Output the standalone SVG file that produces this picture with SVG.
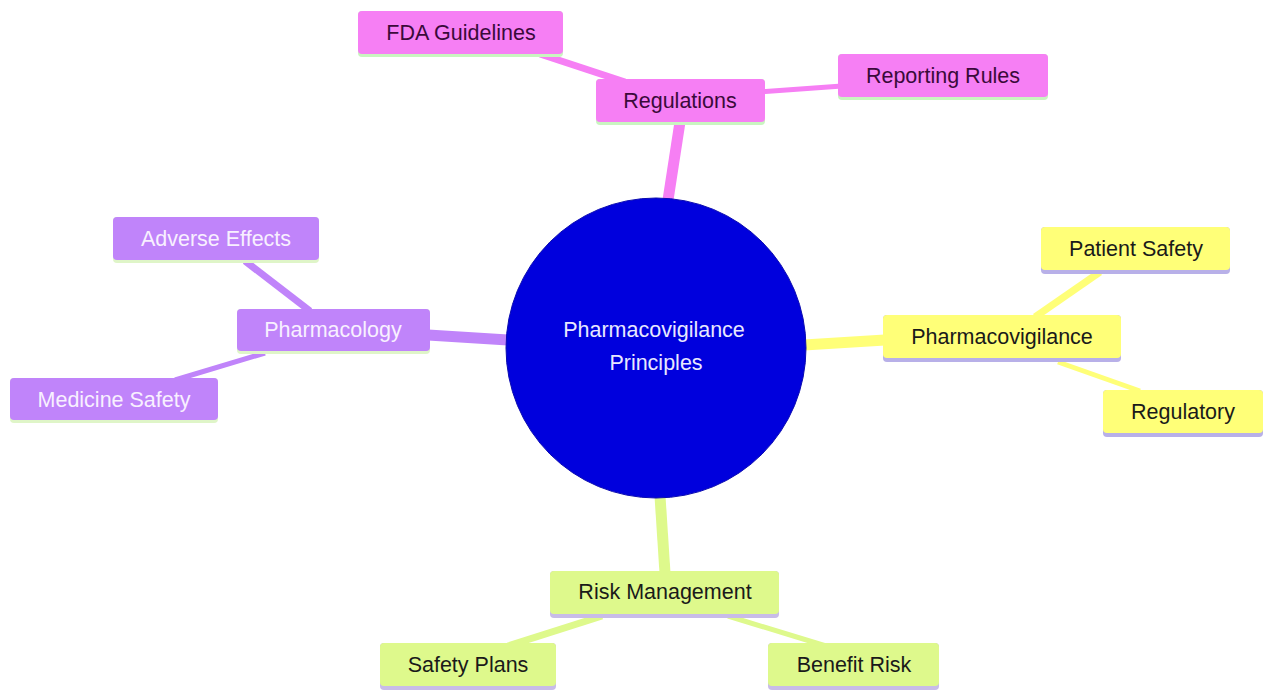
<svg xmlns="http://www.w3.org/2000/svg" width="1264" height="690" viewBox="0 0 1264 690">
<style>
text{font-family:"Liberation Sans",Arial,sans-serif;font-size:21.5px;text-anchor:middle;dominant-baseline:central}
.m rect.b{fill:#f67ff4}
.m rect.u{fill:#c9f5c0}
.m text{fill:#3a0a3a}
.p rect.b{fill:#c084fa}
.p rect.u{fill:#dff5c8}
.p text{fill:#f8f0ff}
.y rect.b{fill:#ffff78}
.y rect.u{fill:#b8b0e8}
.y text{fill:#1a1a1a}
.g rect.b{fill:#def98c}
.g rect.u{fill:#c8bce8}
.g text{fill:#1a1a1a}
.c line{stroke-linecap:butt}
</style>
<rect width="1264" height="690" fill="#ffffff"/>
<g id="connectors" class="c">
<line x1="680" y1="122" x2="668" y2="200" stroke="#f67ff4" stroke-width="11"/>
<line x1="540" y1="54" x2="625" y2="82" stroke="#f67ff4" stroke-width="7"/>
<line x1="760" y1="92" x2="842" y2="86" stroke="#f67ff4" stroke-width="5"/>
<line x1="428" y1="335" x2="508" y2="340" stroke="#c084fa" stroke-width="11"/>
<line x1="245" y1="261" x2="310" y2="311" stroke="#c084fa" stroke-width="7"/>
<line x1="175" y1="380" x2="265" y2="353" stroke="#c084fa" stroke-width="5"/>
<line x1="804" y1="345" x2="885" y2="340" stroke="#ffff78" stroke-width="11"/>
<line x1="1100" y1="272" x2="1035" y2="317" stroke="#ffff78" stroke-width="7"/>
<line x1="1058" y1="362" x2="1140" y2="391" stroke="#ffff78" stroke-width="5"/>
<line x1="660" y1="496" x2="665" y2="573" stroke="#def98c" stroke-width="11"/>
<line x1="602" y1="616" x2="508" y2="646" stroke="#def98c" stroke-width="7"/>
<line x1="728" y1="616" x2="826" y2="646" stroke="#def98c" stroke-width="5"/>
</g>
<g id="root">
<circle cx="656" cy="348" r="150" fill="#0000dd" stroke="#0a0ab0" stroke-width="1"/>
<text x="654" y="330" fill="#e8e8ff">Pharmacovigilance</text>
<text x="656" y="363" fill="#e8e8ff">Principles</text>
</g>
<g id="regulations" class="m"><rect class="u" x="596" y="79" width="169" height="46" rx="4"/><rect class="b" x="596" y="79" width="169" height="43" rx="4"/><text x="680" y="101">Regulations</text></g>
<g id="fda" class="m"><rect class="u" x="358" y="11" width="205" height="46" rx="4"/><rect class="b" x="358" y="11" width="205" height="43" rx="4"/><text x="461" y="33">FDA Guidelines</text></g>
<g id="reporting" class="m"><rect class="u" x="838" y="54" width="210" height="46" rx="4"/><rect class="b" x="838" y="54" width="210" height="43" rx="4"/><text x="943" y="76">Reporting Rules</text></g>
<g id="pharmacology" class="p"><rect class="u" x="237" y="309" width="193" height="45" rx="4"/><rect class="b" x="237" y="309" width="193" height="42" rx="4"/><text x="333" y="330">Pharmacology</text></g>
<g id="adverse" class="p"><rect class="u" x="113" y="217" width="206" height="46" rx="4"/><rect class="b" x="113" y="217" width="206" height="43" rx="4"/><text x="216" y="239">Adverse Effects</text></g>
<g id="medicine" class="p"><rect class="u" x="10" y="378" width="208" height="45" rx="4"/><rect class="b" x="10" y="378" width="208" height="42" rx="4"/><text x="114" y="400">Medicine Safety</text></g>
<g id="pharmacovigilance" class="y"><rect class="u" x="883" y="315" width="238" height="47" rx="4"/><rect class="b" x="883" y="315" width="238" height="43" rx="4"/><text x="1002" y="337">Pharmacovigilance</text></g>
<g id="patient" class="y"><rect class="u" x="1041" y="227" width="189" height="47" rx="4"/><rect class="b" x="1041" y="227" width="189" height="43" rx="4"/><text x="1136" y="249">Patient Safety</text></g>
<g id="regulatory" class="y"><rect class="u" x="1103" y="390" width="160" height="47" rx="4"/><rect class="b" x="1103" y="390" width="160" height="43" rx="4"/><text x="1183" y="412">Regulatory</text></g>
<g id="risk" class="g"><rect class="u" x="550" y="571" width="229" height="47" rx="4"/><rect class="b" x="550" y="571" width="229" height="43" rx="4"/><text x="665" y="592">Risk Management</text></g>
<g id="safetyplans" class="g"><rect class="u" x="380" y="643" width="176" height="47" rx="4"/><rect class="b" x="380" y="643" width="176" height="43" rx="4"/><text x="468" y="665">Safety Plans</text></g>
<g id="benefit" class="g"><rect class="u" x="768" y="643" width="171" height="47" rx="4"/><rect class="b" x="768" y="643" width="171" height="43" rx="4"/><text x="854" y="665">Benefit Risk</text></g>
</svg>
